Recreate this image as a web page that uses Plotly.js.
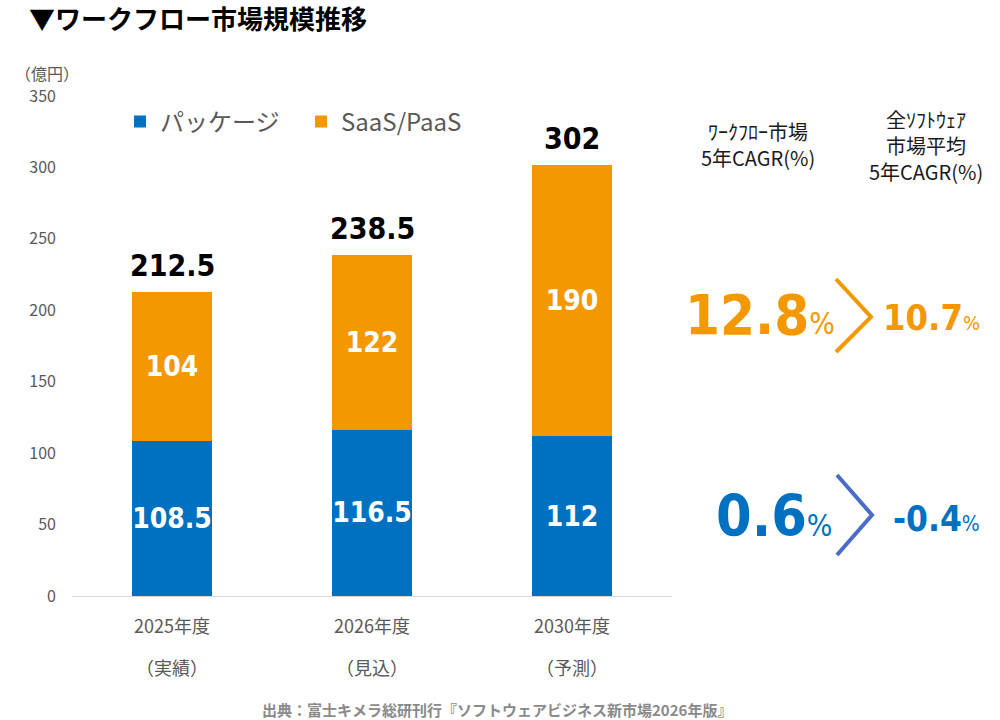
<!DOCTYPE html>
<html>
<head>
<meta charset="utf-8">
<script src="https://cdn.plot.ly/plotly-3.0.1.min.js"></script>
<style>html,body{margin:0;padding:0;background:#fff;}#chart{width:1000px;height:720px;}</style>
</head>
<body>
<div id="chart"></div>
<script>
// ---- data ----
const yearLabels = ["2025年度", "2026年度", "2030年度"];
const statusLabels = ["（実績）", "（見込）", "（予測）"];
const packageValues = [108.5, 116.5, 112];
const saasValues = [104, 122, 190];
const seriesNames = ["パッケージ", "SaaS/PaaS"];
const cagrWorkflow = ["12.8", "0.6"];
const cagrAllSoftware = ["10.7", "-0.4"];
const headerWorkflow = ["ﾜｰｸﾌﾛｰ市場", "5年CAGR(%)"];
const headerAll = ["全ｿﾌﾄｳｪｱ", "市場平均", "5年CAGR(%)"];
const totals = packageValues.map((v, i) => v + saasValues[i]);
const xIdx = yearLabels.map((_, i) => i);

// ---- styles ----
const BLUE = "#0070C0";
const ORANGE = "#F39800";
const GRAY = "#595959";
const JP = "Noto Sans CJK JP, Noto Sans, sans-serif";
const NUM = "DejaVu Sans Condensed, DejaVu Sans, sans-serif";

// plot area pixel geometry
const L = 72, T = 96, W = 600, H = 500;
const px = x => (x - L) / W;
const py = y => (T + H - y) / H;

const barText = {family: NUM, size: 28, color: "#ffffff", weight: "bold"};
const traces = [
  {
    type: "bar", name: seriesNames[0], x: xIdx, y: packageValues,
    marker: {color: BLUE}, width: 0.4,
    text: packageValues.map(String), textposition: "inside", insidetextanchor: "middle",
    textangle: 0, constraintext: "none", textfont: barText, hoverinfo: "skip"
  },
  {
    type: "bar", name: seriesNames[1], x: xIdx, y: saasValues,
    marker: {color: ORANGE}, width: 0.4,
    text: saasValues.map(String), textposition: "inside", insidetextanchor: "middle",
    textangle: 0, constraintext: "none", textfont: barText, hoverinfo: "skip"
  }
];

const annotations = [];
// totals above bars
totals.forEach((t, i) => annotations.push({
  xref: "x", yref: "y", x: i, y: t, text: String(t), showarrow: false,
  yanchor: "bottom", yshift: 7,
  font: {family: NUM, size: 30, color: "#000000", weight: "bold"}
}));
// second line of category labels
statusLabels.forEach((s, i) => annotations.push({
  xref: "x", yref: "paper", x: i, y: py(667), text: s, showarrow: false,
  yanchor: "middle", font: {family: JP, size: 18, color: GRAY}
}));
// unit
annotations.push({xref: "paper", yref: "paper", x: px(13), y: py(73), xanchor: "left", yanchor: "middle",
  text: "（億円）", showarrow: false, font: {family: JP, size: 16, color: GRAY}});
// right headers
annotations.push({xref: "paper", yref: "paper", x: px(758), y: py(144), xanchor: "center", yanchor: "middle",
  text: headerWorkflow.join("<br>"), showarrow: false, font: {family: JP, size: 20, color: "#1a1a1a"}});
annotations.push({xref: "paper", yref: "paper", x: px(926), y: py(145), xanchor: "center", yanchor: "middle",
  text: headerAll.join("<br>"), showarrow: false, font: {family: JP, size: 20, color: "#1a1a1a"}});
// CAGR values
const pct = s => `<span style="font-size:${s}px;font-weight:normal">%</span>`;
annotations.push({xref: "paper", yref: "paper", x: px(837), y: py(314), xanchor: "right", yanchor: "middle",
  text: cagrWorkflow[0] + pct(30), showarrow: false, font: {family: NUM, size: 56, color: ORANGE, weight: "bold"}});
annotations.push({xref: "paper", yref: "paper", x: px(881), y: py(317), xanchor: "left", yanchor: "middle",
  text: cagrAllSoftware[0] + pct(20), showarrow: false, font: {family: NUM, size: 36, color: ORANGE, weight: "bold"}});
annotations.push({xref: "paper", yref: "paper", x: px(835), y: py(516), xanchor: "right", yanchor: "middle",
  text: cagrWorkflow[1] + pct(30), showarrow: false, font: {family: NUM, size: 57, color: BLUE, weight: "bold"}});
annotations.push({xref: "paper", yref: "paper", x: px(891), y: py(519), xanchor: "left", yanchor: "middle",
  text: cagrAllSoftware[1] + pct(21), showarrow: false, font: {family: NUM, size: 35, color: BLUE, weight: "bold"}});
// source
annotations.push({xref: "paper", yref: "paper", x: px(497), y: py(709), xanchor: "center", yanchor: "middle",
  text: "出典：富士キメラ総研刊行『ソフトウェアビジネス新市場2026年版』", showarrow: false,
  font: {family: JP, size: 15, color: "#8a8a8a", weight: "bold"}});

const chevron = (x0, y0, x1, y1, y2, color) => ({
  type: "path", xref: "paper", yref: "paper",
  path: `M ${px(x0)} ${py(y0)} L ${px(x1)} ${py(y1)} L ${px(x0)} ${py(y2)}`,
  line: {color: color, width: 4}
});

const layout = {
  width: 1000, height: 720,
  margin: {l: L, r: 1000 - L - W, t: T, b: 720 - T - H},
  paper_bgcolor: "#ffffff", plot_bgcolor: "#ffffff",
  barmode: "stack",
  showlegend: true,
  legend: {orientation: "h", x: px(120), y: py(122), xanchor: "left", yanchor: "middle",
    entrywidth: 136, entrywidthmode: "pixels",
    font: {family: JP, size: 24, color: GRAY}, bgcolor: "rgba(0,0,0,0)", traceorder: "normal"},
  title: {text: "▼ワークフロー市場規模推移", x: 0.029, xanchor: "left", y: 1 - 20 / 720, yanchor: "middle",
    font: {family: JP, size: 26, color: "#000000", weight: "bold"}},
  xaxis: {range: [-0.5, 2.5], tickvals: xIdx, ticktext: yearLabels, showgrid: false, zeroline: false,
    showline: true, linecolor: "#d9d9d9", linewidth: 1, ticks: "", ticklabelstandoff: 14,
    tickfont: {family: JP, size: 18, color: GRAY}, fixedrange: true},
  yaxis: {range: [0, 350], dtick: 50, showgrid: false, zeroline: false, showline: false, ticks: "",
    ticklabelstandoff: 15, tickfont: {family: JP, size: 16, color: GRAY}, fixedrange: true},
  annotations: annotations,
  shapes: [
    chevron(836, 279, 871, 317, 352, ORANGE),
    chevron(837, 475, 872, 515, 555, "#4A6CC8")
  ]
};

Plotly.newPlot("chart", traces, layout, {displayModeBar: false, staticPlot: true});
</script>
</body>
</html>
